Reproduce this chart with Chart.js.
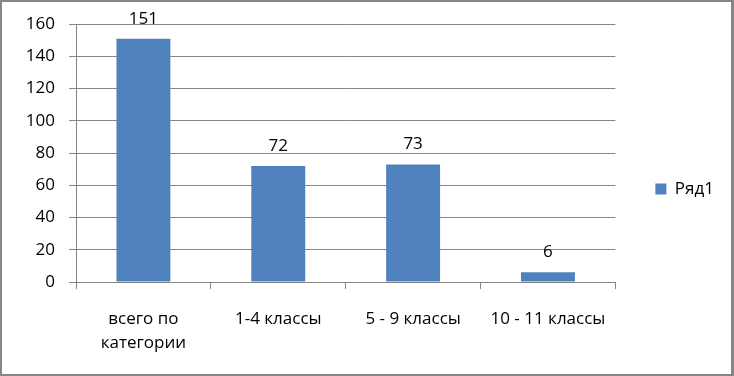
<!DOCTYPE html>
<html>
<head>
<meta charset="utf-8">
<script src="https://cdn.jsdelivr.net/npm/chart.js@4"></script>
<style>
  html, body { margin: 0; padding: 0; background: #fff; }
  #graph1 { display: block; }
</style>
</head>
<body>
<canvas id="graph1" width="734" height="376"></canvas>
<script>
const categories = [['всего по', 'категории'], '1-4 классы', '5 - 9 классы', '10 - 11 классы'];
const values = [151, 72, 73, 6];
const seriesName = 'Ряд1';
const yTicks = [0, 20, 40, 60, 80, 100, 120, 140, 160];

const fontFam = '"Open Sans", "DejaVu Sans", sans-serif';
const fontSize = 17;

// value labels above each bar
const barLabels = {
  id: 'barLabels',
  afterDatasetsDraw(chart) {
    const ctx = chart.ctx;
    const meta = chart.getDatasetMeta(0);
    ctx.save();
    ctx.font = fontSize + 'px ' + fontFam;
    ctx.fillStyle = '#000';
    ctx.textAlign = 'center';
    ctx.textBaseline = 'alphabetic';
    meta.data.forEach(function(bar, i) {
      ctx.fillText(values[i], bar.x, bar.y - 15);
    });
    ctx.restore();
  }
};

// gray frame around the whole chart
const frame = {
  id: 'frame',
  afterDraw(chart) {
    const ctx = chart.ctx;
    ctx.save();
    ctx.strokeStyle = '#868686';
    ctx.lineWidth = 2;
    ctx.strokeRect(1, 1, chart.width - 2, chart.height - 2);
    ctx.fillStyle = '#868686';
    ctx.fillRect(chart.width - 3, 0, 3, chart.height);
    ctx.restore();
  }
};

const data = {
  labels: categories,
  datasets: [{
    label: seriesName,
    backgroundColor: '#4f81bd',
    borderWidth: 0,
    data: values,
    categoryPercentage: 1,
    barPercentage: 0.4
  }]
};

const config = {
  type: 'bar',
  data: data,
  options: {
    responsive: false,
    animation: false,
    layout: { padding: { top: 24, left: 0, right: 10, bottom: 22 } },
    plugins: {
      legend: {
        position: 'right',
        labels: {
          boxWidth: 11,
          boxHeight: 11,
          padding: 40,
          color: '#000',
          font: { family: fontFam, size: fontSize }
        }
      },
      tooltip: { enabled: false }
    },
    scales: {
      y: {
        min: 0,
        max: 160,
        afterBuildTicks(axis) { axis.ticks = yTicks.map(v => ({ value: v })); },
        afterFit(axis) { axis.width = 76; },
        border: { color: '#868686', width: 1 },
        grid: { color: '#868686', tickLength: 7, tickColor: '#868686' },
        ticks: { color: '#000', padding: 14, font: { family: fontFam, size: fontSize } }
      },
      x: {
        afterFit(axis) { axis.height = 72; },
        border: { color: '#868686', width: 1 },
        grid: { offset: true, drawOnChartArea: false, tickLength: 7, tickColor: '#868686' },
        ticks: { color: '#000', padding: 18, maxRotation: 0, autoSkip: false, font: { family: fontFam, size: fontSize, lineHeight: 1.4 } }
      }
    }
  },
  plugins: [barLabels, frame]
};

new Chart(document.querySelector('#graph1'), config);
</script>
</body>
</html>
